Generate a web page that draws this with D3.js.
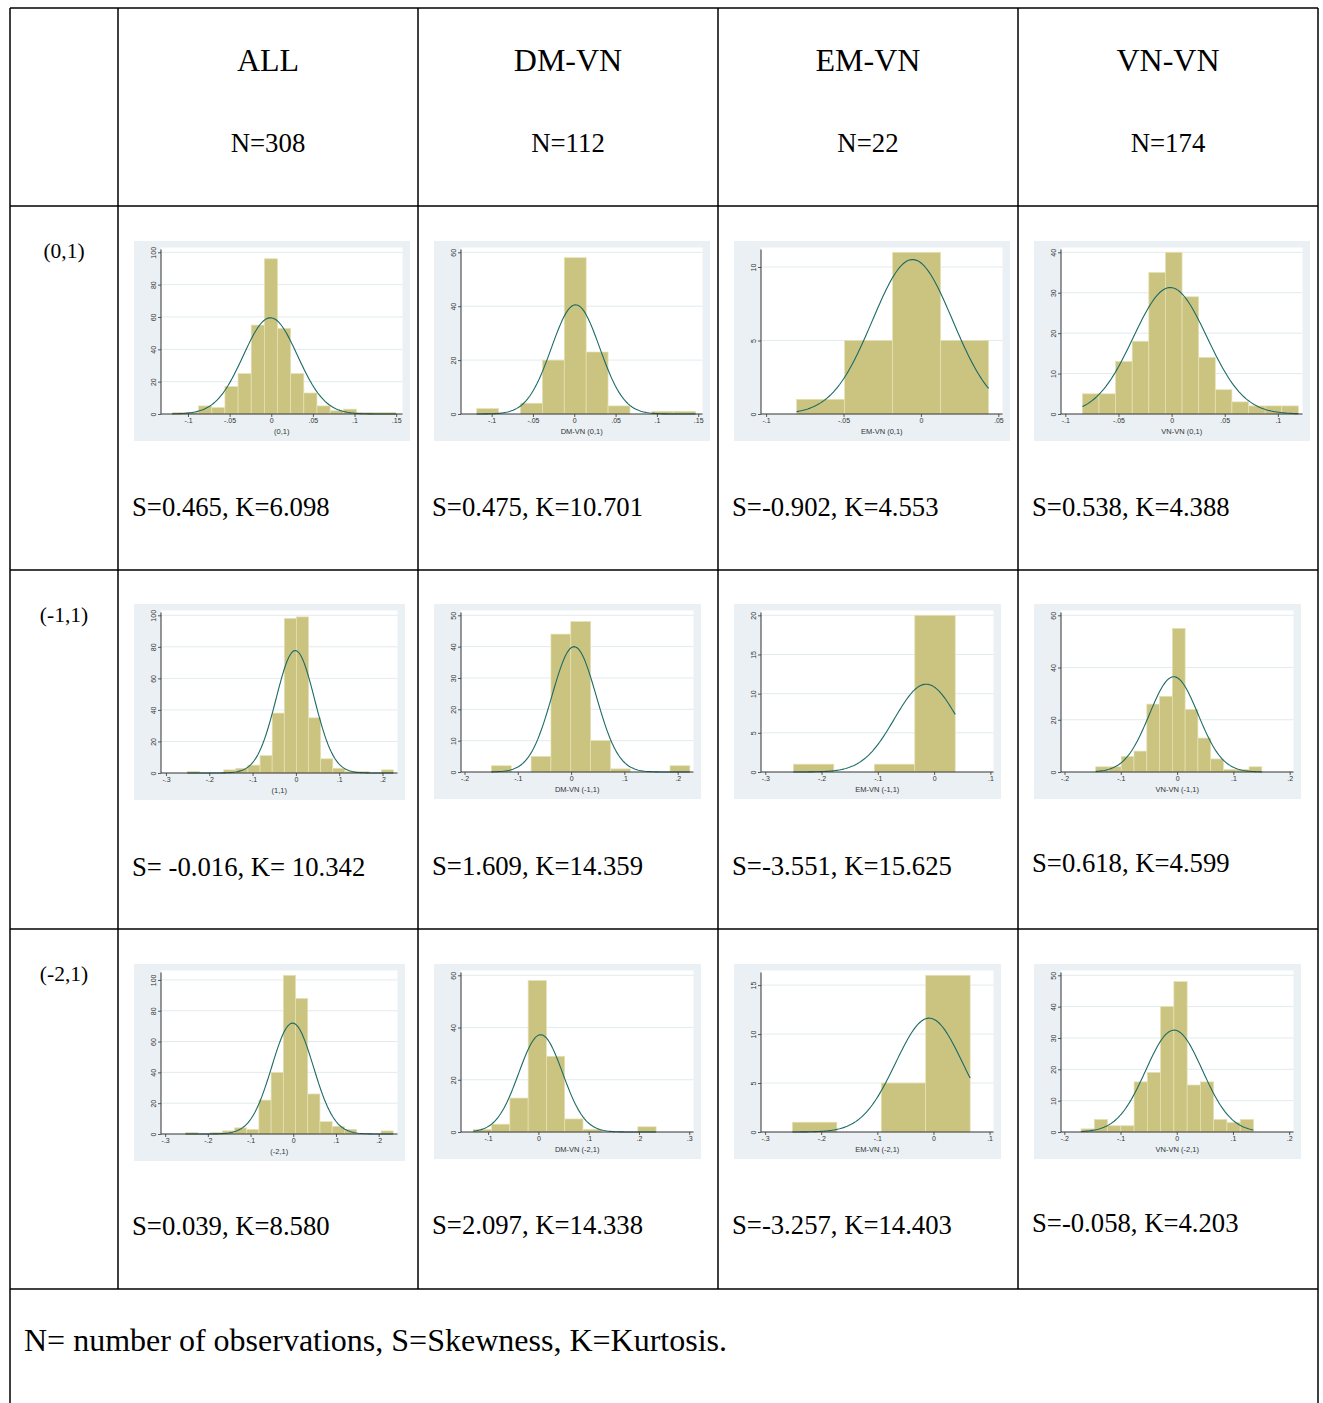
<!DOCTYPE html>
<html lang="en">
<head>
<meta charset="UTF-8">
<title>Histograms</title>
<script src="https://cdn.jsdelivr.net/npm/d3@7"></script>
<style>
  body { margin: 0; background: #fff; }
  .serif { font-family: "Liberation Serif", "Times New Roman", serif; fill: #000; }
  .stata { font-family: "Liberation Sans", Arial, sans-serif; fill: #333; }
</style>
</head>
<body>
<script>
// ---- table text ----
var colNames = ["ALL", "DM-VN", "EM-VN", "VN-VN"];
var colN = ["N=308", "N=112", "N=22", "N=174"];
var rowKeys = ["(0,1)", "(-1,1)", "(-2,1)"];
var statLabels = [
    ["S=0.465, K=6.098", "S=0.475, K=10.701", "S=-0.902, K=4.553", "S=0.538, K=4.388"],
    ["S= -0.016, K= 10.342", "S=1.609, K=14.359", "S=-3.551, K=15.625", "S=0.618, K=4.599"],
    ["S=0.039, K=8.580", "S=2.097, K=14.338", "S=-3.257, K=14.403", "S=-0.058, K=4.203"]
];
var footNote = "N= number of observations, S=Skewness, K=Kurtosis.";

// ---- histogram data, one entry per panel (row by row) ----
var axisTitles = ["(0,1)", "DM-VN (0,1)", "EM-VN (0,1)", "VN-VN (0,1)",
                  "(1,1)", "DM-VN (-1,1)", "EM-VN (-1,1)", "VN-VN (-1,1)",
                  "(-2,1)", "DM-VN (-2,1)", "EM-VN (-2,1)", "VN-VN (-2,1)"];
var binStarts = [-0.1188, -0.1181, -0.0803, -0.0840,
                 -0.2508, -0.1496, -0.2501, -0.1446,
                 -0.2520, -0.1294, -0.2514, -0.1703];
var binWidths = [0.01579, 0.0265, 0.0310, 0.01564,
                 0.0280, 0.03725, 0.0719, 0.0227,
                 0.02859, 0.03635, 0.0792, 0.0236];
var binCounts = [
    [1, 1, 5, 4, 17, 25, 55, 96, 53, 25, 13, 5, 2, 3, 1, 1, 1],
    [2, 0, 4, 20, 58, 23, 3, 0, 1, 1],
    [1, 5, 11, 5],
    [5, 5, 13, 18, 35, 40, 29, 14, 6, 3, 2, 2, 2],
    [1, 0, 0, 2, 3, 5, 11, 38, 98, 99, 35, 9, 3, 1, 1, 0, 2],
    [2, 0, 5, 44, 48, 10, 1, 0, 0, 2],
    [1, 0, 1, 20],
    [2, 2, 6, 8, 26, 29, 55, 24, 13, 5, 1, 1, 2],
    [1, 0, 1, 2, 4, 3, 22, 40, 103, 88, 26, 8, 5, 3, 0, 0, 2],
    [1, 3, 13, 58, 29, 5, 1, 0, 0, 2],
    [1, 0, 5, 16],
    [1, 4, 2, 2, 16, 19, 40, 48, 15, 16, 4, 3, 4]
];
// fitted normal overlay
var normMeans = [-0.0010, 0.0016, -0.0054, -0.0013,
                 -0.0015, 0.0056, -0.0142, -0.0059,
                 -0.0016, 0.0046, -0.0077, -0.0047];
var normSds = [0.0326, 0.0292, 0.0259, 0.0347,
               0.0443, 0.0416, 0.0563, 0.0432,
               0.0488, 0.0436, 0.0598, 0.0504];
// axis ranges and ticks
var xDomains = [[-0.1324, 0.1576], [-0.1371, 0.1552], [-0.1033, 0.0527], [-0.1041, 0.1232],
                [-0.3115, 0.2346], [-0.2066, 0.2297], [-0.3076, 0.1055], [-0.2062, 0.2068],
                [-0.3097, 0.2441], [-0.1539, 0.3085], [-0.3073, 0.1070], [-0.2059, 0.2077]];
var xTicks = [[-0.1, -0.05, 0, 0.05, 0.1, 0.15], [-0.1, -0.05, 0, 0.05, 0.1, 0.15],
              [-0.1, -0.05, 0, 0.05], [-0.1, -0.05, 0, 0.05, 0.1],
              [-0.3, -0.2, -0.1, 0, 0.1, 0.2], [-0.2, -0.1, 0, 0.1, 0.2],
              [-0.3, -0.2, -0.1, 0, 0.1], [-0.2, -0.1, 0, 0.1, 0.2],
              [-0.3, -0.2, -0.1, 0, 0.1, 0.2], [-0.1, 0, 0.1, 0.2, 0.3],
              [-0.3, -0.2, -0.1, 0, 0.1], [-0.2, -0.1, 0, 0.1, 0.2]];
var yTicks = [[0, 20, 40, 60, 80, 100], [0, 20, 40, 60], [0, 5, 10], [0, 10, 20, 30, 40],
              [0, 20, 40, 60, 80, 100], [0, 10, 20, 30, 40, 50], [0, 5, 10, 15, 20], [0, 20, 40, 60],
              [0, 20, 40, 60, 80, 100], [0, 20, 40, 60], [0, 5, 10, 15], [0, 10, 20, 30, 40, 50]];

var W = 1323, H = 1403;
var svg = d3.select("body").append("svg").attr("width", W).attr("height", H);
svg.append("rect").attr("width", W).attr("height", H).attr("fill", "#fff");

// ---- table grid ----
var colX = [10, 118, 418, 718, 1018, 1318];
var rowY = [8, 206, 570, 929, 1289];
var grid = svg.append("g").attr("stroke", "#000").attr("stroke-width", 1.5);
rowY.forEach(function(y){
    grid.append("line").attr("x1", colX[0]).attr("x2", colX[5]).attr("y1", y).attr("y2", y);
});
colX.forEach(function(x, i){
    var bottom = (i === 0 || i === 5) ? H : rowY[4];
    grid.append("line").attr("x1", x).attr("x2", x).attr("y1", rowY[0]).attr("y2", bottom);
});

// header
colNames.forEach(function(t, c){
    var cx = (colX[c + 1] + colX[c + 2]) / 2;
    svg.append("text").attr("class", "serif").attr("x", cx).attr("y", 71)
        .attr("text-anchor", "middle").attr("font-size", 32).text(t);
    svg.append("text").attr("class", "serif").attr("x", cx).attr("y", 152)
        .attr("text-anchor", "middle").attr("font-size", 26.8).text(colN[c]);
});
// row labels
var rowLabelY = [258, 622, 981];
rowKeys.forEach(function(t, r){
    svg.append("text").attr("class", "serif").attr("x", 64).attr("y", rowLabelY[r])
        .attr("text-anchor", "middle").attr("font-size", 21.5).text(t);
});
// stats lines
var statY = [[516, 516, 516, 516], [876, 875, 875, 872], [1235, 1234, 1234, 1232]];
statLabels.forEach(function(row, r){
    row.forEach(function(t, c){
        svg.append("text").attr("class", "serif").attr("x", 132 + 300 * c).attr("y", statY[r][c])
            .attr("font-size", 26.7).text(t);
    });
});
svg.append("text").attr("class", "serif").attr("x", 24).attr("y", 1351)
    .attr("font-size", 32).text(footNote);

// ---- histogram panels ----
var panelTop = [241, 604, 964];
function panelSize(r, c){
    if (r === 0) return [276, 200];
    return c === 0 ? [271, r === 2 ? 197 : 196] : [267, 195];
}
function stataFmt(d){
    if (d === 0) return "0";
    return String(+d.toFixed(3)).replace("0.", ".");
}

axisTitles.forEach(function(title, i){
    var r = Math.floor(i / 4), c = i % 4;
    var sz = panelSize(r, c), w = sz[0], h = sz[1];
    var left = 27, right = w - 7.5, top = 6.5, bottom = h - 27;
    var g = svg.append("g").attr("transform", "translate(" + (134 + 300 * c) + "," + panelTop[r] + ")");

    g.append("rect").attr("width", w).attr("height", h).attr("fill", "#eaf0f3");
    g.append("rect").attr("x", left).attr("y", top).attr("width", right - left)
        .attr("height", bottom - top).attr("fill", "#fff");

    var counts = binCounts[i];
    var ymax = Math.max(d3.max(yTicks[i]), d3.max(counts));
    var x = d3.scaleLinear().domain(xDomains[i]).range([left, right]);
    var y = d3.scaleLinear().domain([0, ymax]).range([bottom, top + 4.8]);

    // gridlines
    g.selectAll(".grid").data(yTicks[i].filter(function(d){ return d > 0; })).enter()
        .append("line").attr("x1", left).attr("x2", right)
        .attr("y1", function(d){ return y(d); }).attr("y2", function(d){ return y(d); })
        .attr("stroke", "#e2ebee").attr("stroke-width", 1);

    // bars
    var start = binStarts[i], bw = binWidths[i];
    counts.forEach(function(d, k){
        if (d <= 0) return;
        g.append("rect")
            .attr("x", x(start + k * bw))
            .attr("width", x(start + (k + 1) * bw) - x(start + k * bw))
            .attr("y", y(d)).attr("height", bottom - y(d))
            .attr("fill", "#cbc480").attr("stroke", "#e6e2b4").attr("stroke-width", 0.7);
    });

    // normal curve
    var n = d3.sum(counts), mu = normMeans[i], sd = normSds[i];
    var scale = n * bw / (sd * Math.sqrt(2 * Math.PI));
    var span = counts.length * bw;
    var pts = d3.range(0, 121).map(function(j){
        var xv = start + span * j / 120;
        return [xv, scale * Math.exp(-0.5 * Math.pow((xv - mu) / sd, 2))];
    });
    g.append("path").datum(pts)
        .attr("d", d3.line().x(function(p){ return x(p[0]); }).y(function(p){ return y(p[1]); }))
        .attr("fill", "none").attr("stroke", "#1c6a66").attr("stroke-width", 1.1);

    // axes
    var xa = g.append("g").attr("class", "stata").attr("transform", "translate(0," + bottom + ")")
        .call(d3.axisBottom(x).tickValues(xTicks[i]).tickFormat(stataFmt).tickSize(3).tickSizeOuter(0).tickPadding(1.5));
    xa.select(".domain").remove();
    xa.selectAll("line").attr("stroke", "#333").attr("stroke-width", 0.8);
    xa.selectAll("text").attr("font-size", 7).attr("fill", "#333");
    g.append("line").attr("x1", left).attr("x2", right).attr("y1", bottom).attr("y2", bottom)
        .attr("stroke", "#333").attr("stroke-width", 1);

    var ya = g.append("g").attr("class", "stata").attr("transform", "translate(" + left + ",0)")
        .call(d3.axisLeft(y).tickValues(yTicks[i]).tickSize(3).tickSizeOuter(0));
    ya.select(".domain").remove();
    ya.selectAll("line").attr("stroke", "#333").attr("stroke-width", 0.8);
    ya.selectAll("text").attr("x", null).attr("dy", null)
        .attr("transform", "translate(-5,0) rotate(-90)")
        .attr("text-anchor", "middle").attr("font-size", 7).attr("fill", "#333");
    g.append("line").attr("x1", left).attr("x2", left).attr("y1", top + 2).attr("y2", bottom)
        .attr("stroke", "#333").attr("stroke-width", 1);

    g.append("text").attr("class", "stata").attr("x", (left + right) / 2).attr("y", h - 7.5)
        .attr("text-anchor", "middle").attr("font-size", 7.5).text(title);
});
</script>
</body>
</html>
